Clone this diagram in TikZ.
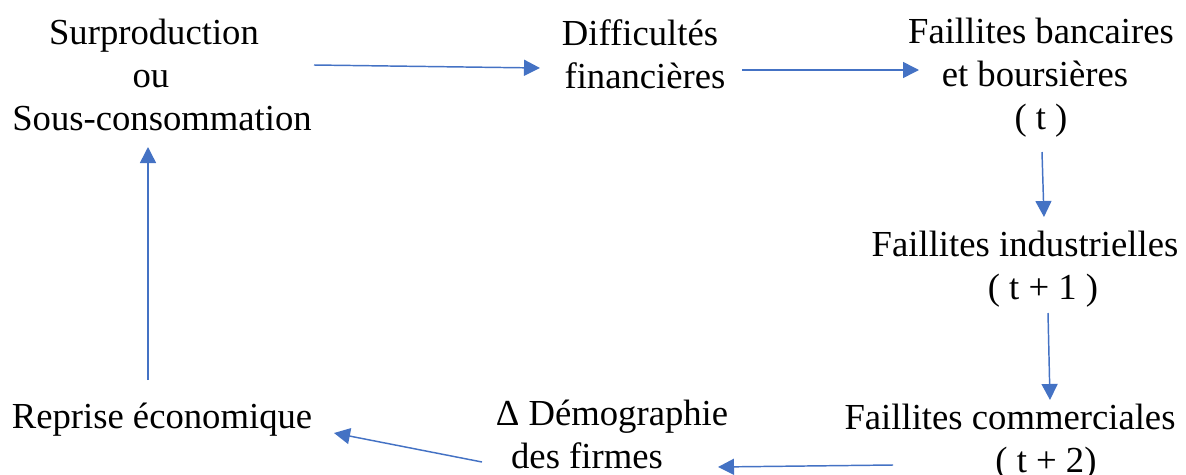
\documentclass[tikz,border=0pt]{standalone}
\usepackage{fontspec}
\setmainfont{Liberation Serif}
\usetikzlibrary{arrows.meta}
\definecolor{arrblue}{HTML}{4472C4}
\begin{document}
\begin{tikzpicture}[x=0.75pt,y=-0.75pt,
  txt/.style={anchor=base,inner sep=0pt,font=\rmfamily\fontsize{27.5}{32.25}\selectfont},
  arr/.style={draw=arrblue,line width=1.1pt,-{Triangle[length=12pt,width=12pt]}}]
\useasboundingbox (0,0) rectangle (1186,475);
\node[txt] (surp) at (162,44) {\begin{tabular}[t]{@{}c@{}}Surproduction\hspace*{12pt}\\ou\hspace*{16.5pt}\\Sous-consommation\end{tabular}};
\node[txt] (diff) at (645,45) {\begin{tabular}[t]{@{}c@{}}Difficultés\hspace*{7.5pt}\\financières\end{tabular}};
\node[txt] (banc) at (1041,43) {\begin{tabular}[t]{@{}c@{}}Faillites bancaires\\et boursières\hspace*{9pt}\\( t )\end{tabular}};
\node[txt] (indu) at (1025,256) {\begin{tabular}[t]{@{}c@{}}Faillites industrielles\\\hspace*{27pt}( t + 1 )\end{tabular}};
\node[txt] (comm) at (1010,429) {\begin{tabular}[t]{@{}c@{}}Faillites commerciales\\\hspace*{54pt}( t + 2)\end{tabular}};
\node[txt] (demo) at (612,425) {\begin{tabular}[t]{@{}c@{}}Δ Démographie\\des firmes\hspace*{37.5pt}\end{tabular}};
\node[txt] (repr) at (162,428) {Reprise économique};
\coordinate (a1s) at (314,65);  \coordinate (a1e) at (540,68);
\coordinate (a2s) at (742,70);  \coordinate (a2e) at (919,70);
\coordinate (a3s) at (1042,152);\coordinate (a3e) at (1044,217);
\coordinate (a4s) at (1048,313);\coordinate (a4e) at (1050,400);
\coordinate (a5s) at (893,465); \coordinate (a5e) at (718,467);
\coordinate (a6s) at (482,462); \coordinate (a6e) at (334,433);
\coordinate (a7s) at (148,380); \coordinate (a7e) at (148,147);
\draw[arr] (a1s) -- (a1e);
\draw[arr] (a2s) -- (a2e);
\draw[arr] (a3s) -- (a3e);
\draw[arr] (a4s) -- (a4e);
\draw[arr] (a5s) -- (a5e);
\draw[arr] (a6s) -- (a6e);
\draw[arr] (a7s) -- (a7e);
\end{tikzpicture}
\end{document}
